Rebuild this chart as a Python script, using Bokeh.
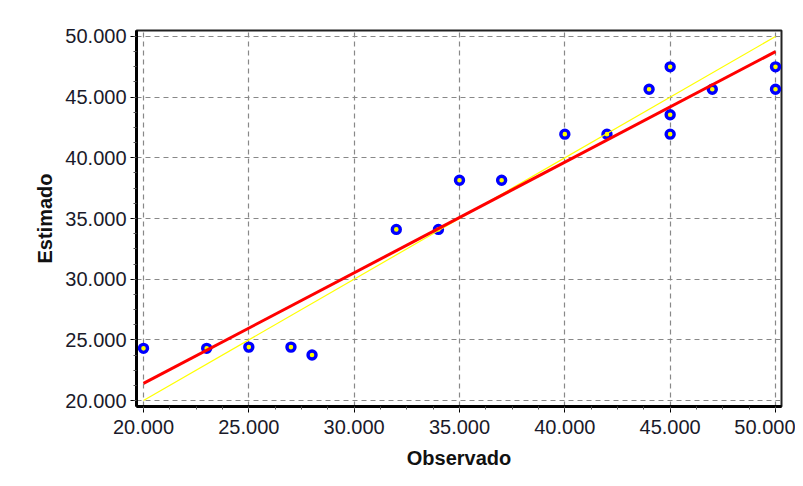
import numpy as np
from bokeh.plotting import figure
from bokeh.models import SingleIntervalTicker, CustomJSTickFormatter, Range1d
from bokeh.embed import file_html
from bokeh.resources import INLINE

observado = [20000, 23000, 25000, 27000, 28000, 32000, 34000, 35000, 37000,
             40000, 42000, 44000, 45000, 45000, 45000, 47000, 50000, 50000]
estimado = [24300, 24300, 24400, 24400, 23750, 34100, 34100, 38150, 38150,
            41950, 41950, 45650, 47500, 43550, 41950, 45650, 47500, 45650]

x_label = "Observado"
y_label = "Estimado"

obs = np.array(observado, dtype=float)
est = np.array(estimado, dtype=float)

# regression line (red) and identity line (yellow)
slope, intercept = np.polyfit(obs, est, 1)
line_x = np.array([obs.min(), obs.max()])
reg_y = slope * line_x + intercept
ident_y = line_x.copy()

FONT = "Liberation Sans"

p = figure(width=795, height=478, output_backend="svg", toolbar_location=None,
           min_border_left=136, min_border_right=14, min_border_top=30,
           min_border_bottom=72,
           x_range=Range1d(19668, 50285), y_range=Range1d(19506, 50494))
p.background_fill_color = "white"
p.border_fill_color = "white"
p.outline_line_color = "#222222"
p.outline_line_width = 2

p.scatter(obs, est, marker="circle", size=8, fill_color="#FFFF00",
          line_color="#0000FF", line_width=3.4)
p.line(line_x, ident_y, line_color="#FFFF00", line_width=1.2)
p.line(line_x, reg_y, line_color="#FF0000", line_width=3)

fmt = CustomJSTickFormatter(code="""
return Math.round(tick).toString().replace(/\\B(?=(\\d{3})+(?!\\d))/g, ".");
""")

for ax, lab in ((p.xaxis[0], x_label), (p.yaxis[0], y_label)):
    ax.ticker = SingleIntervalTicker(interval=5000, num_minor_ticks=4)
    ax.formatter = fmt
    ax.axis_label = lab
    ax.axis_label_text_font = FONT
    ax.axis_label_text_font_size = "20px"
    ax.axis_label_text_font_style = "bold"
    ax.axis_label_text_color = "#111111"
    ax.major_label_text_font = FONT
    ax.major_label_text_font_size = "20px"
    ax.major_label_text_color = "#1a1a2a"
    ax.axis_line_color = "black"
    ax.axis_line_width = 3
    ax.major_tick_line_color = "black"
    ax.major_tick_out = 6
    ax.major_tick_in = 0
    ax.minor_tick_line_color = "#555555"
    ax.minor_tick_out = 3
    ax.minor_tick_in = 0

p.xaxis.major_label_standoff = 7
p.xaxis.axis_label_standoff = 10
p.yaxis.major_label_standoff = 4
p.yaxis.axis_label_standoff = 6

for g in (p.xgrid[0], p.ygrid[0]):
    g.grid_line_color = "#888888"
    g.grid_line_dash = "5 4"
    g.grid_line_width = 1.2

open("out.html", "w").write(file_html(p, INLINE))
